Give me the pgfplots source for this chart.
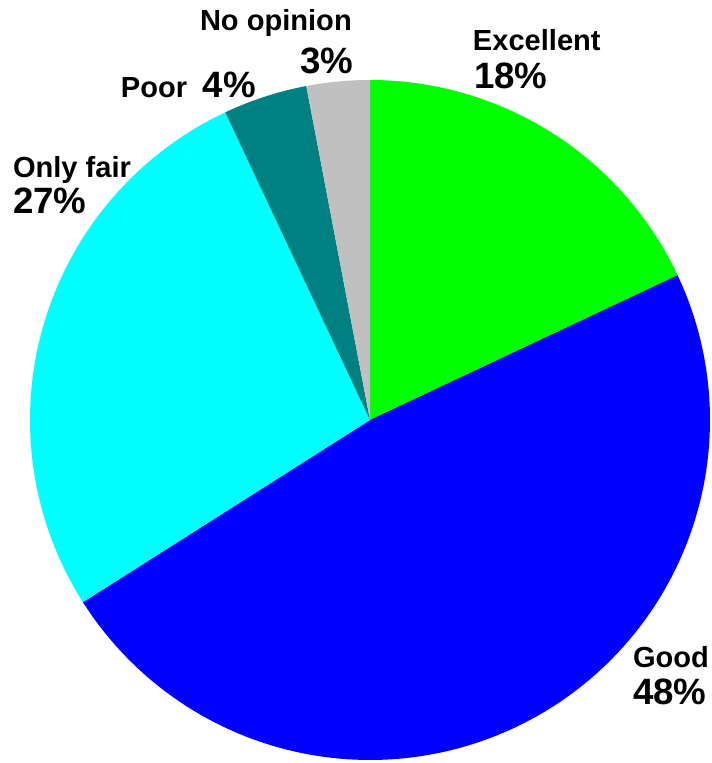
\documentclass[border=0pt]{standalone}
\usepackage{pgfplots}
\pgfplotsset{compat=1.18}
\usepackage{fontspec}
\setmainfont{Liberation Sans}
\definecolor{cExc}{HTML}{00FF00}
\definecolor{cGood}{HTML}{0000FF}
\definecolor{cFair}{HTML}{00FFFF}
\definecolor{cPoor}{HTML}{008080}
\definecolor{cNone}{HTML}{C0C0C0}
% shares (percent), clockwise from 12 o'clock
\def\vExc{18}\def\vGood{48}\def\vFair{27}\def\vPoor{4}\def\vNone{3}
\pgfmathsetmacro\aA{90}
\pgfmathsetmacro\aB{\aA-3.6*\vExc}
\pgfmathsetmacro\aC{\aB-3.6*\vGood}
\pgfmathsetmacro\aD{\aC-3.6*\vFair}
\pgfmathsetmacro\aE{\aD-3.6*\vPoor}
\pgfmathsetmacro\aF{\aE-3.6*\vNone}
\newcommand{\lab}{\fontsize{21.8}{26}\selectfont\bfseries}
\newcommand{\pct}{\fontsize{27.5}{32}\selectfont\bfseries}
\tikzset{lb/.style={inner sep=0pt, outer sep=0pt, anchor=base west, text=black}}
\begin{document}
\begin{tikzpicture}
\begin{axis}[
  x=255pt, y=255pt,
  xmin=-1.08824, xmax=1.00294, ymin=-1.00882, ymax=1.23529,
  hide axis, clip=false,
]
\path (axis cs:-1.08824,-1.00882) rectangle (axis cs:1.00294,1.23529);
\addplot[fill=cExc, draw=none, domain=\aB:\aA, samples=80, variable=\t] ({cos(t)},{sin(t)}) -- (axis cs:0,0) -- cycle;
\addplot[fill=cGood, draw=none, domain=\aC:\aB, samples=120, variable=\t] ({cos(t)},{sin(t)}) -- (axis cs:0,0) -- cycle;
\addplot[fill=cFair, draw=none, domain=\aD:\aC, samples=100, variable=\t] ({cos(t)},{sin(t)}) -- (axis cs:0,0) -- cycle;
\addplot[fill=cPoor, draw=none, domain=\aE:\aD, samples=30, variable=\t] ({cos(t)},{sin(t)}) -- (axis cs:0,0) -- cycle;
\addplot[fill=cNone, draw=none, domain=\aF:\aE, samples=30, variable=\t] ({cos(t)},{sin(t)}) -- (axis cs:0,0) -- cycle;
\node[lb] at (axis cs:0.3029,1.0882) {\lab Excellent};
\node[lb] at (axis cs:0.3059,0.9756) {\pct 18\%};
\node[lb] at (axis cs:0.7735,-0.7265) {\lab Good};
\node[lb] at (axis cs:0.7735,-0.8353) {\pct 48\%};
\node[lb] at (axis cs:-1.05,0.7118) {\lab Only fair};
\node[lb] at (axis cs:-1.05,0.6059) {\pct 27\%};
\node[lb] at (axis cs:-0.7324,0.9491) {\lab Poor};
\node[lb] at (axis cs:-0.4912,0.9491) {\pct 4\%};
\node[lb] at (axis cs:-0.5,1.1450) {\lab No opinion};
\node[lb] at (axis cs:-0.2059,1.0197) {\pct 3\%};
\end{axis}
\end{tikzpicture}
\end{document}
